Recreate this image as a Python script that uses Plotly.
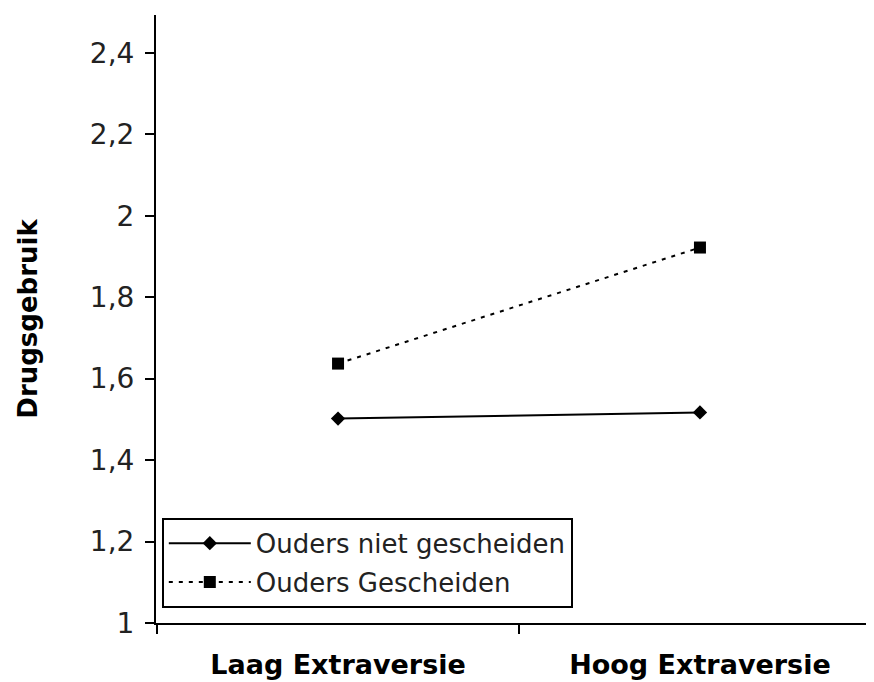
import plotly.graph_objects as go

categories = ["Laag Extraversie", "Hoog Extraversie"]
niet_gescheiden = [1.502, 1.517]
gescheiden = [1.637, 1.922]
y_tickvals = [1, 1.2, 1.4, 1.6, 1.8, 2, 2.2, 2.4]
y_ticktext = ["1", "1,2", "1,4", "1,6", "1,8", "2", "2,2", "2,4"]

fig = go.Figure()
fig.add_trace(go.Scatter(
    x=categories, y=niet_gescheiden, name="Ouders niet gescheiden",
    mode="lines+markers", legendgroup="a",
    line=dict(color="black", width=2),
    marker=dict(symbol="diamond", size=11, color="black"),
))
fig.add_trace(go.Scatter(
    x=categories, y=gescheiden, name="Ouders Gescheiden",
    mode="lines+markers", legendgroup="b",
    line=dict(color="black", width=2, dash="4px,6px"),
    marker=dict(symbol="square", size=12, color="black"),
))

fig.update_layout(
    width=874, height=682,
    margin=dict(l=148, r=0, t=7, b=67),
    paper_bgcolor="white", plot_bgcolor="white",
    font=dict(family="DejaVu Sans", color="black", size=24),
    showlegend=True,
    legend=dict(
        x=0.008, y=0.173, xanchor="left", yanchor="top",
        bgcolor="white", bordercolor="black", borderwidth=2,
        font=dict(family="DejaVu Sans", size=26, color="#222"),
        itemwidth=82, tracegroupgap=2, traceorder="grouped",
    ),
    xaxis=dict(
        type="category", range=[-0.503, 1.503],
        showline=True, linecolor="black", linewidth=2,
        ticks="outside", tickson="boundaries", ticklen=9, tickcolor="black", tickwidth=2,
        ticklabelstandoff=17,
        tickfont=dict(family="DejaVu Sans", size=27, color="black", weight="bold"),
        showgrid=False, zeroline=False,
    ),
    yaxis=dict(
        range=[1, 2.493],
        tickvals=y_tickvals, ticktext=y_ticktext,
        showline=True, linecolor="black", linewidth=2,
        ticks="outside", ticklen=9, tickcolor="black", tickwidth=2,
        ticklabelstandoff=5,
        tickfont=dict(family="DejaVu Sans", size=28, color="#222"),
        showgrid=False, zeroline=False,
        title=dict(text="Drugsgebruik", standoff=45,
                   font=dict(family="DejaVu Sans", size=26, color="black", weight="bold")),
    ),
)

fig.write_html("out.html")
